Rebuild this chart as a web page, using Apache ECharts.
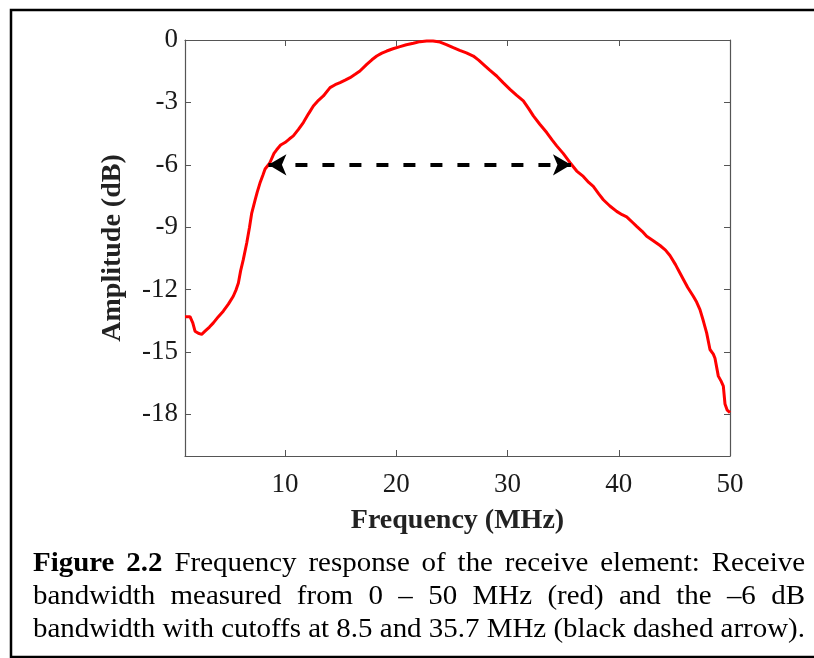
<!DOCTYPE html>
<html>
<head>
<meta charset="utf-8">
<script src="https://cdn.jsdelivr.net/npm/echarts@6/dist/echarts.min.js"></script>
<style>
html,body{margin:0;padding:0;background:#fff;}
#chart{width:814px;height:658px;}
</style>
</head>
<body>
<div id="chart"></div>
<script>
// ---- data ----
const freq = [1.0,1.45,1.7,1.9,2.2,2.5,2.8,3.2,3.55,4.0,4.44,4.9,5.34,5.6,5.8,6.0,6.24,6.55,6.8,7.0,7.3,7.5,7.74,8.0,8.2,8.5,8.64,9.0,9.24,9.6,9.99,10.4,10.74,11.2,11.64,12.1,12.54,13.0,13.44,14.04,14.5,14.94,15.4,15.84,16.3,16.73,17.34,17.8,18.24,18.7,19.14,19.7,20.33,20.9,21.53,22.13,22.73,23.3,23.93,24.5,25.12,25.7,26.3,26.92,27.4,27.82,28.4,29.02,29.6,30.22,30.8,31.42,31.9,32.32,32.9,33.52,34.0,34.42,35.0,35.62,36.22,36.81,37.3,37.71,38.2,38.61,39.2,39.81,40.3,40.71,41.2,41.61,42.1,42.51,43.1,43.71,44.2,44.6,45.1,45.5,45.8,46.2,46.7,47.0,47.3,47.6,47.9,48.2,48.5,48.65,48.95,49.2,49.4,49.55,49.75,50.0];
const amplitude = [-13.3,-13.3,-13.6,-14.0,-14.1,-14.15,-14.0,-13.8,-13.6,-13.3,-13.04,-12.7,-12.32,-12.0,-11.68,-11.1,-10.56,-9.76,-9.0,-8.32,-7.7,-7.3,-6.88,-6.5,-6.2,-6.0,-5.89,-5.45,-5.28,-5.05,-4.93,-4.75,-4.61,-4.3,-3.97,-3.55,-3.17,-2.9,-2.69,-2.29,-2.15,-2.05,-1.93,-1.81,-1.65,-1.49,-1.17,-0.95,-0.77,-0.63,-0.53,-0.42,-0.32,-0.23,-0.16,-0.08,-0.05,-0.05,-0.1,-0.22,-0.37,-0.5,-0.62,-0.77,-0.97,-1.17,-1.45,-1.73,-2.05,-2.37,-2.65,-2.93,-3.3,-3.65,-4.05,-4.45,-4.8,-5.09,-5.45,-5.9,-6.3,-6.56,-6.85,-7.04,-7.4,-7.68,-7.98,-8.24,-8.4,-8.5,-8.75,-8.96,-9.2,-9.44,-9.65,-9.88,-10.1,-10.36,-10.8,-11.2,-11.5,-11.9,-12.32,-12.6,-12.96,-13.5,-14.08,-14.88,-15.1,-15.3,-16.16,-16.4,-16.64,-17.5,-17.8,-17.92];
const cutoffFreqs = [8.5, 35.7];
const cutoffLevel = -6;
const xTicks = [10, 20, 30, 40, 50];
const yTicks = [0, -3, -6, -9, -12, -15, -18];
const xRange = [1, 50];
const yRange = [-20, 0];
const xTitle = 'Frequency (MHz)';
const yTitle = 'Amplitude (dB)';
const captionLines = [
  [['Figure', true], ['2.2', true], ['Frequency'], ['response'], ['of'], ['the'], ['receive'], ['element:'], ['Receive']],
  [['bandwidth'], ['measured'], ['from'], ['0'], ['–'], ['50'], ['MHz'], ['(red)'], ['and'], ['the'], ['–6'], ['dB']],
  'bandwidth with cutoffs at 8.5 and 35.7 MHz (black dashed arrow).'
];

// ---- layout ----
const FONT = '"Liberation Serif", "Times New Roman", serif';
const CAP_FS = 28;
const CAP_LEFT = 33, CAP_RIGHT = 805;
const CAP_Y = [564, 597, 630];

const mctx = document.createElement('canvas').getContext('2d');
function measure(t, bold) {
  mctx.font = (bold ? 'bold ' : '') + CAP_FS + 'px ' + FONT;
  return mctx.measureText(t).width;
}
const capWidth = CAP_RIGHT - CAP_LEFT;
const s = capWidth / measure(captionLines[2], false);

const graphics = [];
// outer frame
graphics.push({type:'polyline', shape:{points:[[11,658],[11,10],[814,10]]}, style:{stroke:'#000', lineWidth:2.5, fill:null}, silent:true});
graphics.push({type:'line', shape:{x1:11,y1:657,x2:814,y2:657}, style:{stroke:'#000', lineWidth:2.5}, silent:true});

function addWord(text, x, y, bold) {
  graphics.push({
    type:'text', x:x, y:y, scaleX:s, scaleY:1, silent:true,
    style:{text:text, font:(bold?'bold ':'') + CAP_FS + 'px ' + FONT, fill:'#000',
      textAlign:'left', textVerticalAlign:'middle', align:'left', verticalAlign:'middle'}
  });
}
for (let li = 0; li < 2; li++) {
  const words = captionLines[li];
  const widths = words.map(w => measure(w[0], !!w[1]) * s);
  const total = widths.reduce((a,b)=>a+b,0);
  const gap = (capWidth - total) / (words.length - 1);
  let x = CAP_LEFT;
  words.forEach((w, i) => { addWord(w[0], x, CAP_Y[li], !!w[1]); x += widths[i] + gap; });
}
addWord(captionLines[2], CAP_LEFT, CAP_Y[2], false);

const axisColor = '#555';
const chart = echarts.init(document.getElementById('chart'), null, {renderer:'canvas'});
const seriesData = freq.map((f,i)=>[f, amplitude[i]]);

const commonX = {
  type:'value', min:xRange[0], max:xRange[1],
  axisLine:{show:true, onZero:false, lineStyle:{color:axisColor, width:1.2}},
  axisTick:{show:true, inside:true, length:6, customValues:xTicks, lineStyle:{color:axisColor}},
  splitLine:{show:false}
};
const commonY = {
  type:'value', min:yRange[0], max:yRange[1],
  axisLine:{show:true, onZero:false, lineStyle:{color:axisColor, width:1.2}},
  axisTick:{show:true, inside:true, length:6, customValues:yTicks, lineStyle:{color:axisColor}},
  splitLine:{show:false}
};

chart.setOption({
  animation:false,
  backgroundColor:'#fff',
  grid:{left:185, top:40, width:545, height:416, containLabel:false},
  xAxis:[
    Object.assign({}, commonX, {
      position:'bottom',
      axisLabel:{show:true, customValues:xTicks, margin:15, color:'#1a1a1a', fontSize:27, fontFamily:FONT},
      name:xTitle, nameLocation:'middle', nameGap:51,
      nameTextStyle:{fontSize:28, fontWeight:'bold', fontFamily:FONT, color:'#222'}
    }),
    Object.assign({}, commonX, {position:'top', axisLabel:{show:false}})
  ],
  yAxis:[
    Object.assign({}, commonY, {
      position:'left',
      axisLabel:{show:true, customValues:yTicks, margin:7, color:'#1a1a1a', fontSize:27, fontFamily:FONT},
      name:yTitle, nameLocation:'middle', nameGap:58, nameRotate:90,
      nameTextStyle:{fontSize:28, fontWeight:'bold', fontFamily:FONT, color:'#222'}
    }),
    Object.assign({}, commonY, {position:'right', axisLabel:{show:false}})
  ],
  series:[
    {
      type:'line', data:seriesData, showSymbol:false, symbol:'none',
      lineStyle:{color:'#ff0000', width:3}, z:3,
      markLine:{
        silent:true, animation:false,
        symbol:['arrow','arrow'], symbolSize:[16,18],
        label:{show:false},
        lineStyle:{color:'#000', width:4, type:[12,15], opacity:1},
        data:[[{coord:[cutoffFreqs[0], cutoffLevel]}, {coord:[cutoffFreqs[1], cutoffLevel]}]]
      }
    }
  ],
  graphic:graphics
});
</script>
</body>
</html>
